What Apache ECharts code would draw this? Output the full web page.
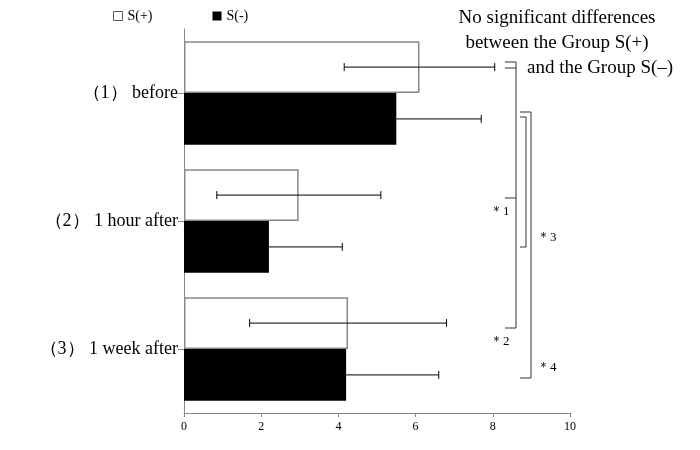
<!DOCTYPE html>
<html>
<head>
<meta charset="utf-8">
<script src="https://cdn.jsdelivr.net/npm/echarts@6/dist/echarts.min.js"></script>
<style>html,body{margin:0;padding:0;background:#fff}#main{width:700px;height:450px}</style>
</head>
<body>
<div id="main"></div>
<script>
var categories = ['（1） before', '（2） 1 hour after', '（3） 1 week after'];
var plusValues = [6.1, 2.97, 4.25];
var plusLow = [4.15, 0.85, 1.7];
var plusHigh = [8.05, 5.1, 6.8];
var minusValues = [5.5, 2.2, 4.2];
var minusHigh = [7.7, 4.1, 6.6];
var xTicks = [0, 2, 4, 6, 8, 10];

var chart = echarts.init(document.getElementById('main'));
var serif = 'Liberation Serif';

function errorSeries(name, low, high, side) {
  return {
    type: 'custom',
    name: name + ' err',
    z: 5,
    data: low.map(function (l, i) { return [l, high[i], i]; }),
    encode: { x: [0, 1], y: 2 },
    renderItem: function (params, api) {
      var a = api.coord([api.value(0), api.value(2)]);
      var b = api.coord([api.value(1), api.value(2)]);
      var band = api.size([0, 1])[1];
      var off = side * band * 0.81 / 4;
      var y = a[1] + off;
      var style = { stroke: '#000', lineWidth: 1 };
      var kids = [
        { type: 'line', shape: { x1: a[0], y1: y, x2: b[0], y2: y }, style: style },
        { type: 'line', shape: { x1: b[0], y1: y - 4, x2: b[0], y2: y + 4 }, style: style }
      ];
      if (api.value(0) < api.value(1) && name === 'plus') {
        kids.push({ type: 'line', shape: { x1: a[0], y1: y - 4, x2: a[0], y2: y + 4 }, style: style });
      }
      return { type: 'group', children: kids };
    }
  };
}

function ln(x1, y1, x2, y2) {
  return { type: 'line', shape: { x1: x1, y1: y1, x2: x2, y2: y2 }, style: { stroke: '#333', lineWidth: 1 } };
}
function txt(x, y, s, size, align) {
  return { type: 'text', x: x, y: y, style: { text: s, font: size + 'px "' + serif + '"', fill: '#000', textAlign: align || 'left', textVerticalAlign: 'middle' } };
}

var option = {
  animation: false,
  grid: { left: 184, right: 130, top: 29, bottom: 37 },
  legend: {
    left: 108, top: 4, itemGap: 60, itemWidth: 9, itemHeight: 9,
    textStyle: { fontFamily: serif, fontSize: 14, color: '#000' },
    data: [
      { name: 'S(+)', icon: 'rect', itemStyle: { color: '#fff', borderColor: '#555', borderWidth: 1 } },
      { name: 'S(-)', icon: 'rect', itemStyle: { color: '#000' } }
    ]
  },
  xAxis: {
    type: 'value', min: 0, max: 10, interval: 2,
    splitLine: { show: false },
    axisLine: { show: true, lineStyle: { color: '#888' } },
    axisTick: { show: true, length: 4, lineStyle: { color: '#888' } },
    axisLabel: { fontFamily: serif, fontSize: 12, color: '#000',
      formatter: function (v) { return xTicks.indexOf(v) >= 0 ? String(v) : ''; } }
  },
  yAxis: {
    type: 'category', inverse: true, data: categories,
    axisLine: { show: true, lineStyle: { color: '#888' } },
    axisTick: { show: true, alignWithLabel: true, length: 6, lineStyle: { color: '#888' } },
    axisLabel: { fontFamily: serif, fontSize: 18, color: '#000', margin: 6 }
  },
  series: [
    { name: 'S(+)', type: 'bar', data: plusValues, barGap: '0%', barCategoryGap: '19%',
      itemStyle: { color: '#fff', borderColor: '#888', borderWidth: 1.5 } },
    { name: 'S(-)', type: 'bar', data: minusValues,
      itemStyle: { color: '#000' } },
    errorSeries('plus', plusLow, plusHigh, -1),
    errorSeries('minus', minusValues, minusHigh, 1)
  ],
  graphic: [
    txt(557, 18, 'No significant differences', 19, 'center'),
    txt(557, 43, 'between the Group S(+)', 19, 'center'),
    txt(527, 68, 'and the Group S(–)', 19, 'left'),
    ln(505, 62, 516, 62), ln(505, 68, 516, 68),
    ln(516, 62, 516, 328),
    ln(505, 198, 516, 198), ln(505, 328, 516, 328),
    ln(520, 112, 531, 112), ln(531, 112, 531, 378), ln(520, 378, 531, 378),
    ln(520, 117, 526, 117), ln(526, 117, 526, 247), ln(520, 247, 526, 247),
    txt(490, 212, '＊1', 13), txt(490, 342, '＊2', 13),
    txt(537, 238, '＊3', 13), txt(537, 368, '＊4', 13)
  ]
};
chart.setOption(option);
</script>
</body>
</html>
